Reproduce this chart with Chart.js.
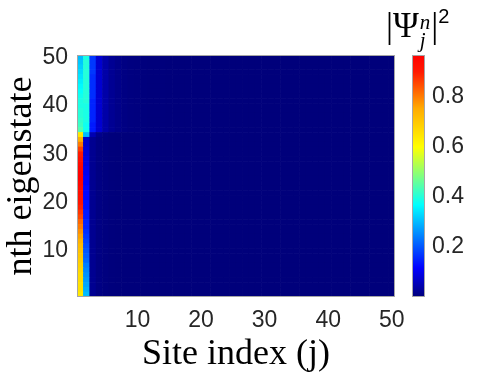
<!DOCTYPE html>
<html>
<head>
<meta charset="utf-8">
<script src="https://cdn.jsdelivr.net/npm/chart.js@4.4.1/dist/chart.umd.min.js"></script>
<style>
  html, body { margin: 0; padding: 0; background: #fff; }
  #wrap { position: relative; width: 483px; height: 376px; overflow: hidden; }
  #heat { position: absolute; left: 0; top: 0; }
  #cbar { position: absolute; left: 405px; top: 0; }
  #cbLabel { position: absolute; left: 386px; top: 8px; font-family: 'Liberation Serif', serif; font-size: 35px; color: #000; white-space: nowrap; line-height: 1; }
  #cbLabel .ss { display: inline-block; vertical-align: -10px; font-style: italic; font-size: 21px; line-height: 18px; margin: 0 1px 0 1px; }
  #cbLabel .ss span { display: block; }
  #cbLabel sup { font-size: 20px; vertical-align: 14px; line-height: 0; font-family: 'Liberation Sans', sans-serif; }
</style>
</head>
<body>
<div id="wrap">
  <canvas id="heat" width="483" height="376"></canvas>
  <canvas id="cbar" width="78" height="376"></canvas>
  <div id="cbLabel">|Ψ<span class="ss"><span>n</span><span>j</span></span>|<sup>2</sup></div>
</div>
<script>
// site index j (x) and eigenstate number n (y)
const siteIndex = [1,2,3,4,5,6,7,8,9,10,11,12,13,14,15,16,17,18,19,20,21,22,23,24,25,
  26,27,28,29,30,31,32,33,34,35,36,37,38,39,40,41,42,43,44,45,46,47,48,49,50];
const eigenIndex = [1,2,3,4,5,6,7,8,9,10,11,12,13,14,15,16,17,18,19,20,21,22,23,24,25,
  26,27,28,29,30,31,32,33,34,35,36,37,38,39,40,41,42,43,44,45,46,47,48,49,50];
const xTicks = [10, 20, 30, 40, 50];
const yTicks = [10, 20, 30, 40, 50];
const cbTicks = [0.2, 0.4, 0.6, 0.8];
const colorMax = 0.964;

// |psi|^2 on sites j = 1..5, listed for n = 1..50
const psiJ1 = [0.64,0.65,0.65,0.66,0.66,0.67,0.68,0.69,0.70,0.71,
  0.72,0.74,0.76,0.78,0.80,0.82,0.85,0.87,0.89,0.91,
  0.92,0.93,0.94,0.95,0.964,0.96,0.95,0.94,0.92,0.90,
  0.86,0.80,0.74,0.64,0.44,0.42,0.41,0.40,0.40,0.39,
  0.39,0.38,0.37,0.36,0.35,0.34,0.33,0.32,0.31,0.30];
const psiJ2 = [0.30,0.29,0.28,0.27,0.26,0.25,0.24,0.22,0.21,0.20,
  0.19,0.18,0.17,0.16,0.15,0.15,0.14,0.14,0.13,0.13,
  0.12,0.12,0.12,0.11,0.11,0.10,0.10,0.09,0.09,0.08,
  0.08,0.07,0.07,0.30,0.38,0.38,0.39,0.39,0.39,0.39,
  0.40,0.40,0.40,0.40,0.40,0.40,0.40,0.40,0.40,0.39];
const psiJ3 = [0.02,0.02,0.02,0.02,0.02,0.02,0.02,0.02,0.02,0.02,
  0.02,0.02,0.02,0.02,0.02,0.02,0.02,0.02,0.02,0.02,
  0.02,0.02,0.02,0.02,0.02,0.02,0.02,0.02,0.02,0.02,
  0.02,0.02,0.02,0.05,0.14,0.14,0.15,0.15,0.15,0.15,
  0.15,0.16,0.16,0.16,0.16,0.16,0.17,0.17,0.17,0.17];
const psiJ4 = [0.008,0.008,0.008,0.008,0.008,0.008,0.008,0.008,0.008,0.008,
  0.008,0.008,0.008,0.008,0.008,0.008,0.008,0.008,0.008,0.008,
  0.008,0.008,0.008,0.008,0.008,0.008,0.008,0.008,0.008,0.008,
  0.008,0.008,0.008,0.015,0.075,0.075,0.075,0.075,0.075,0.075,
  0.075,0.075,0.075,0.075,0.075,0.075,0.075,0.075,0.075,0.075];
const psiJ5 = [0.004,0.004,0.004,0.004,0.004,0.004,0.004,0.004,0.004,0.004,
  0.004,0.004,0.004,0.004,0.004,0.004,0.004,0.004,0.004,0.004,
  0.004,0.004,0.004,0.004,0.004,0.004,0.004,0.004,0.004,0.004,
  0.004,0.004,0.004,0.006,0.04,0.04,0.04,0.04,0.04,0.04,
  0.04,0.04,0.04,0.04,0.04,0.04,0.04,0.04,0.04,0.04];
// sites j = 6..50 (nearly empty): upper block n >= 35 and lower block n <= 34
const tailUpper = [0.022,0.013,0.008,0.005,0.004,0.003,0.002,0.002,0.002,0.001,
  0.001,0.001,0.001,0.001,0.001,0.001,0.001,0.001,0.001,0.001,
  0.001,0.001,0.001,0.001,0.001,0.001,0.001,0.001,0.001,0.001,
  0.001,0.001,0.001,0.001,0.001,0.001,0.001,0.001,0.001,0.001,
  0.001,0.001,0.001,0.001,0.001];
const tailLower = [0.002,0.001,0.001,0.001,0.001,0.001,0.001,0.001,0.001,0.001,
  0.001,0.001,0.001,0.001,0.001,0.001,0.001,0.001,0.001,0.001,
  0.001,0.001,0.001,0.001,0.001,0.001,0.001,0.001,0.001,0.001,
  0.001,0.001,0.001,0.001,0.001,0.001,0.001,0.001,0.001,0.001,
  0.001,0.001,0.001,0.001,0.001];

const firstSites = [psiJ1, psiJ2, psiJ3, psiJ4, psiJ5];

function psi(c, r) {
  if (c < firstSites.length) return firstSites[c][r];
  return eigenIndex[r] >= 35 ? tailUpper[c - 5] : tailLower[c - 5];
}

// jet-like colormap
const stops = [
  [0.00, [0, 0, 122]],
  [0.12, [0, 0, 255]],
  [0.38, [0, 255, 255]],
  [0.62, [255, 255, 0]],
  [0.78, [255, 170, 0]],
  [0.93, [255, 25, 0]],
  [1.00, [255, 0, 0]]
];
function jet(v) {
  const t = Math.max(0, Math.min(1, v / colorMax));
  for (let i = 1; i < stops.length; i++) {
    if (t <= stops[i][0]) {
      const [t0, c0] = stops[i - 1];
      const [t1, c1] = stops[i];
      const f = (t - t0) / (t1 - t0);
      const c = c0.map((a, k) => Math.round(a + (c1[k] - a) * f));
      return `rgb(${c[0]},${c[1]},${c[2]})`;
    }
  }
  return 'rgb(255,0,0)';
}

const boxPlugin = {
  id: 'box',
  afterDraw(chart) {
    const { ctx, chartArea: a } = chart;
    ctx.save();
    ctx.strokeStyle = '#a6a6a6';
    ctx.lineWidth = 1;
    ctx.strokeRect(a.left + 0.5, a.top + 0.5, a.right - a.left - 1, a.bottom - a.top - 1);
    ctx.restore();
  }
};

const tickFont = { family: 'Liberation Sans', size: 23 };
const titleFont = { family: 'Liberation Serif', size: 36 };

new Chart(document.getElementById('heat'), {
  type: 'bar',
  data: {
    labels: siteIndex,
    datasets: eigenIndex.map((n, r) => ({
      label: 'n = ' + n,
      data: siteIndex.map(() => [n - 0.5, n + 0.5]),
      backgroundColor: siteIndex.map((j, c) => jet(psi(c, r))),
      borderWidth: 0,
      grouped: false,
      barPercentage: 1,
      categoryPercentage: 1
    }))
  },
  options: {
    responsive: false,
    animation: false,
    layout: { padding: { left: 0, top: 55, right: 88, bottom: 0 } },
    plugins: { legend: { display: false }, tooltip: { enabled: false } },
    scales: {
      x: {
        grid: { display: false },
        border: { display: false },
        ticks: {
          autoSkip: false, maxRotation: 0, font: tickFont, color: '#262626', padding: 2,
          callback(v) {
            const l = this.getLabelForValue(v);
            return xTicks.includes(Number(l)) ? String(l) : '';
          }
        },
        title: { display: true, text: 'Site index (j)', font: titleFont, color: '#000', padding: 0 },
        afterFit(s) { s.height = 79; }
      },
      y: {
        min: 0.5, max: 50.5,
        grid: { display: false },
        border: { display: false },
        ticks: { font: tickFont, color: '#262626', padding: 1 },
        afterBuildTicks(s) { s.ticks = yTicks.map(v => ({ value: v })); },
        title: { display: true, text: 'nth eigenstate', font: titleFont, color: '#000', padding: 0 },
        afterFit(s) { s.width = 77; }
      }
    }
  },
  plugins: [boxPlugin]
});

const gradientPlugin = {
  id: 'gradient',
  beforeDraw(chart) {
    const { ctx, chartArea: a } = chart;
    const g = ctx.createLinearGradient(0, a.bottom, 0, a.top);
    stops.forEach(([t, c]) => g.addColorStop(t, `rgb(${c[0]},${c[1]},${c[2]})`));
    ctx.save();
    ctx.fillStyle = g;
    ctx.fillRect(a.left, a.top, a.right - a.left, a.bottom - a.top);
    ctx.restore();
  }
};

new Chart(document.getElementById('cbar'), {
  type: 'bar',
  data: { labels: [''], datasets: [{ data: [] }] },
  options: {
    responsive: false,
    animation: false,
    layout: { padding: { left: 7, top: 55, right: 0, bottom: 79 } },
    plugins: { legend: { display: false }, tooltip: { enabled: false } },
    scales: {
      x: { display: false },
      y: {
        position: 'right',
        min: 0, max: colorMax,
        grid: { display: false, drawTicks: false },
        border: { display: false },
        ticks: { font: tickFont, color: '#262626', padding: 7, callback: v => v.toFixed(1) },
        afterBuildTicks(s) { s.ticks = cbTicks.map(v => ({ value: v })); },
        afterFit(s) { s.width = 58; }
      }
    }
  },
  plugins: [gradientPlugin, boxPlugin]
});
</script>
</body>
</html>
